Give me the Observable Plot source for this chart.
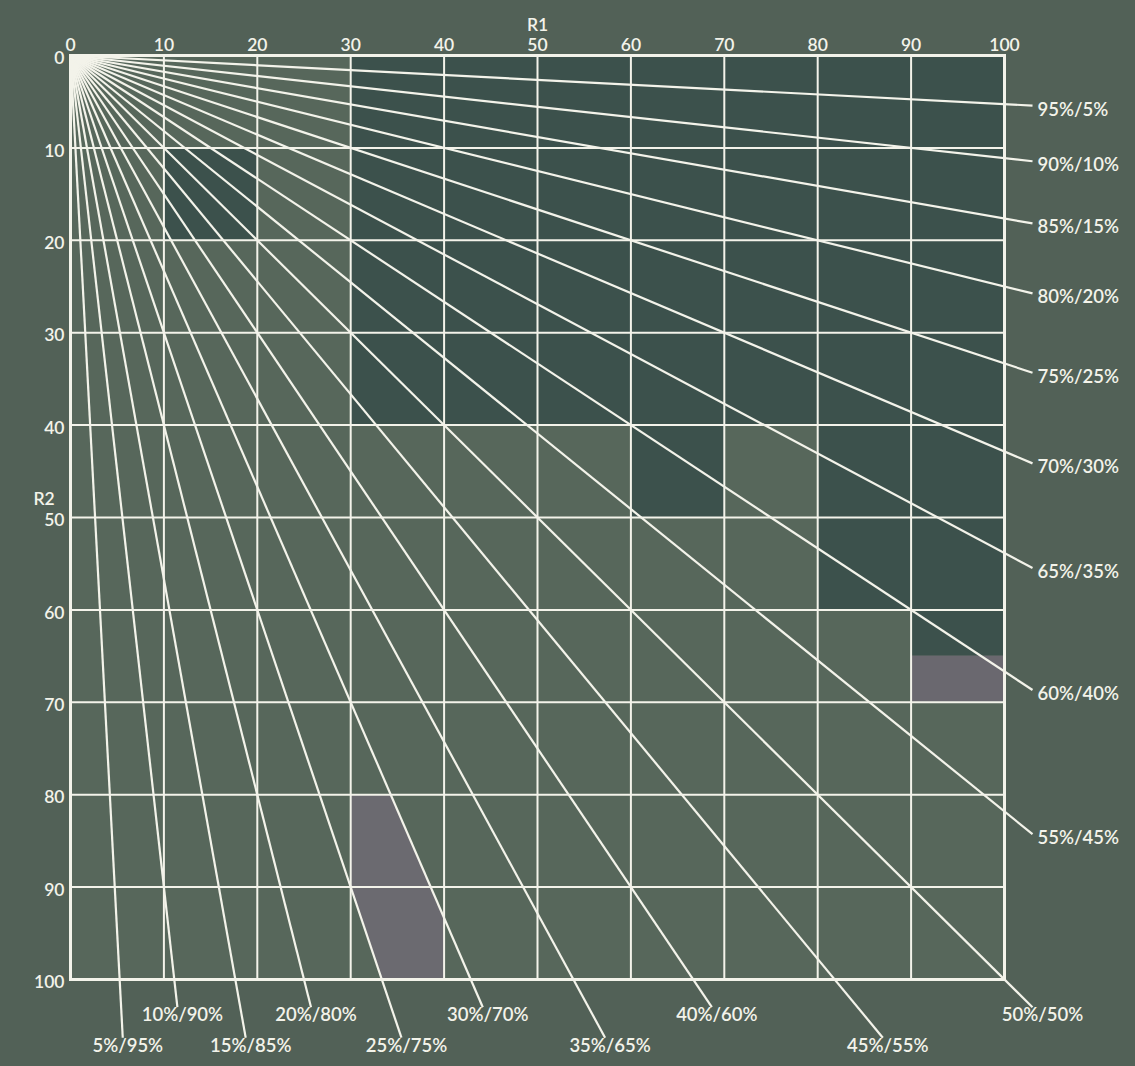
<!DOCTYPE html>
<html>
<head>
<meta charset="utf-8">
<script src="https://cdn.jsdelivr.net/npm/d3@7"></script>
<script src="https://cdn.jsdelivr.net/npm/@observablehq/plot@0.6"></script>
<style>
  html, body { margin: 0; padding: 0; background: #526157; }
  #chart svg { display: block; }
</style>
</head>
<body>
<div id="chart"></div>
<script>
// Axis ticks
const r1Ticks = [0, 10, 20, 30, 40, 50, 60, 70, 80, 90, 100];
const r2Ticks = [0, 10, 20, 30, 40, 50, 60, 70, 80, 90, 100];
// Ratio lines: R1 share in percent
const ratioPercents = [5, 10, 15, 20, 25, 30, 35, 40, 45, 50, 55, 60, 65, 70, 75, 80, 85, 90, 95];
const ratioLabels = ["5%/95%", "10%/90%", "15%/85%", "20%/80%", "25%/75%", "30%/70%", "35%/65%", "40%/60%", "45%/55%", "50%/50%", "55%/45%", "60%/40%", "65%/35%", "70%/30%", "75%/25%", "80%/20%", "85%/15%", "90%/10%", "95%/5%"];
// Tinted background patches of the photographed chart (grid cells)
const tealX1 = [30, 80, 60, 90, 10];
const tealX2 = [100, 100, 70, 100, 20];
const tealY1 = [0, 40, 40, 60, 10];
const tealY2 = [40, 60, 50, 65, 20];
const greyX1 = [90];
const greyX2 = [100];
const greyY1 = [65];
const greyY2 = [70];
// grey wedge between the 25%/75% and 30%/70% lines, cells 30-40 / 80-100
const wedgeR2 = [80, 90, 93.33, 100];

const teal = tealX1.map((d, i) => ({x1: d, x2: tealX2[i], y1: tealY1[i], y2: tealY2[i]}));
const grey = greyX1.map((d, i) => ({x1: d, x2: greyX2[i], y1: greyY1[i], y2: greyY2[i]}));
const wedge = wedgeR2.map(y => ({y, x1: Math.max(30, y * 25 / 75), x2: Math.min(40, y * 30 / 70)}));

const ratios = ratioPercents.map((p, i) => {
  let ex, ey, side;
  if (p > 50) { ex = 103; ey = ex * (100 - p) / p; side = "right"; }
  else if (p === 50) { ex = 103; ey = 103; side = "corner"; }
  else {
    ey = (p / 5) % 2 === 1 ? 106.3 : 103;
    ex = ey * p / (100 - p);
    side = "bottom";
  }
  return {p, label: ratioLabels[i], ex, ey, side};
});

const ink = "#f3f3ea";
const font = "Lato, 'Open Sans', sans-serif";

const chart = Plot.plot({
  width: 1135,
  height: 1066,
  marginLeft: 70,
  marginRight: 131,
  marginTop: 55,
  marginBottom: 87,
  style: {background: "#526157", color: ink, fontFamily: font, fontSize: "17px"},
  x: {domain: [0, 100], axis: null},
  y: {domain: [0, 100], reverse: true, axis: null},
  marks: [
    Plot.rect([{}], {x1: 0, x2: 100, y1: 0, y2: 100, fill: "#57675b"}),
    Plot.rect(teal, {x1: "x1", x2: "x2", y1: "y1", y2: "y2", fill: "#3c514c"}),
    Plot.rect(grey, {x1: "x1", x2: "x2", y1: "y1", y2: "y2", fill: "#6a686f"}),
    Plot.areaX(wedge, {y: "y", x1: "x1", x2: "x2", fill: "#6b6a70"}),
    Plot.ruleX(r1Ticks, {x: d => d, y1: 0, y2: 100, stroke: ink, strokeWidth: 2}),
    Plot.ruleY(r2Ticks, {y: d => d, x1: 0, x2: 100, stroke: ink, strokeWidth: 2}),
    Plot.frame({stroke: ink, strokeWidth: 3}),
    Plot.link(ratios, {x1: 0, y1: 0, x2: "ex", y2: "ey", stroke: ink, strokeWidth: 2.2}),
    Plot.text(ratios.filter(d => d.side === "right"), {x: "ex", y: "ey", text: "label", textAnchor: "start", dx: 5, dy: 4, fill: ink, fontSize: 18.5, fontWeight: 600}),
    Plot.text(ratios.filter(d => d.side === "bottom"), {x: "ex", y: "ey", text: "label", textAnchor: "middle", lineAnchor: "top", dx: 5, dy: 1, fill: ink, fontSize: 18.5, fontWeight: 600}),
    Plot.text(ratios.filter(d => d.side === "corner"), {x: "ex", y: "ey", text: "label", textAnchor: "middle", lineAnchor: "top", dx: 10, dy: 1, fill: ink, fontSize: 18.5, fontWeight: 600}),
    Plot.axisX({anchor: "top", ticks: r1Ticks, tickSize: 0, tickPadding: 5, label: null, fontSize: 17.5, fontWeight: 600}),
    Plot.axisY({anchor: "left", ticks: r2Ticks, tickSize: 0, tickPadding: 6, dy: 3, label: null, fontSize: 17.5, fontWeight: 600}),
    Plot.text(["R1"], {x: 50, frameAnchor: "top", dy: -37, text: d => d, fill: ink, fontSize: 17.5, fontWeight: 600}),
    Plot.text(["R2"], {y: 48, frameAnchor: "left", dx: -37, text: d => d, fill: ink, fontSize: 17.5, fontWeight: 600})
  ]
});
document.getElementById("chart").append(chart);
</script>
</body>
</html>
